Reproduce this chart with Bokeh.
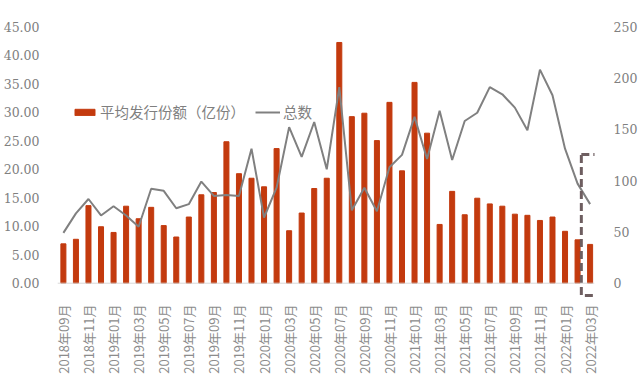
import math
from bokeh.plotting import figure
from bokeh.models import (Range1d, LinearAxis, FixedTicker, NumeralTickFormatter,
                          Span, Legend, LegendItem, ColumnDataSource)
from bokeh.embed import file_html
from bokeh.resources import INLINE

months = ["2018年09月", "2018年10月", "2018年11月", "2018年12月",
          "2019年01月", "2019年02月", "2019年03月", "2019年04月", "2019年05月", "2019年06月",
          "2019年07月", "2019年08月", "2019年09月", "2019年10月", "2019年11月", "2019年12月",
          "2020年01月", "2020年02月", "2020年03月", "2020年04月", "2020年05月", "2020年06月",
          "2020年07月", "2020年08月", "2020年09月", "2020年10月", "2020年11月", "2020年12月",
          "2021年01月", "2021年02月", "2021年03月", "2021年04月", "2021年05月", "2021年06月",
          "2021年07月", "2021年08月", "2021年09月", "2021年10月", "2021年11月", "2021年12月",
          "2022年01月", "2022年02月", "2022年03月"]
avg_share = [6.9, 7.7, 13.6, 9.9, 8.9, 13.5, 11.3, 13.3, 10.1, 8.1,
             11.6, 15.5, 15.9, 24.8, 19.2, 18.4, 16.9, 23.6, 9.2, 12.3,
             16.6, 18.4, 42.2, 29.2, 29.8, 25.0, 31.7, 19.7, 35.2, 26.3,
             10.3, 16.1, 12.0, 14.9, 13.9, 13.5, 12.1, 11.9, 11.0, 11.6,
             9.1, 7.6, 6.8]
total = [49, 68, 82, 66, 75, 66, 55, 92, 90, 73,
         77, 99, 85, 86, 85, 131, 64, 93, 152, 123,
         157, 111, 191, 71, 93, 70, 113, 125, 162, 121,
         168, 120, 158, 166, 191, 184, 171, 149, 208, 183,
         131, 97, 77]
bar_name = "平均发行份额（亿份）"
line_name = "总数"
left_ticks = [0, 5, 10, 15, 20, 25, 30, 35, 40, 45]
right_ticks = [0, 50, 100, 150, 200, 250]

idx = list(range(len(months)))
src = ColumnDataSource(dict(x=idx, share=avg_share, total=total))

Y_LO = -2.68
p = figure(width=640, height=381, output_backend="svg", toolbar_location=None,
           x_range=Range1d(-0.47, 42.35), y_range=Range1d(Y_LO, 45),
           min_border_left=55, min_border_right=43, min_border_top=26,
           min_border_bottom=83, outline_line_color=None,
           background_fill_color="white", border_fill_color="white")
p.extra_y_ranges = {"right": Range1d(Y_LO * 250 / 45, 250)}
p.grid.visible = False

bar_color = "#C33A0E"
bars = p.vbar(x="x", top="share", width=0.4, source=src, color=bar_color)
line = p.line(x="x", y="total", source=src, y_range_name="right",
              line_color="#808080", line_width=2)

p.add_layout(Span(location=0, dimension="width", line_color="#d9d9d9", line_width=1))

# highlight box around the latest month
last = idx[-1]
p.quad(left=[last - 0.7], right=[last + 0.84], bottom=[-2.15], top=[22.55],
       fill_alpha=0, line_color="#6E5E60", line_width=3, line_dash="8 4")

tick_font = "DejaVu Serif"
tick_color = "#808080"

ya = p.yaxis[0]
ya.ticker = FixedTicker(ticks=left_ticks)
ya.formatter = NumeralTickFormatter(format="0.00")
ya.axis_line_color = None
ya.major_tick_line_color = None
ya.minor_tick_line_color = None
ya.major_label_text_font = tick_font
ya.major_label_text_font_size = "12.5px"
ya.major_label_text_color = tick_color
ya.major_label_standoff = 12

ra = LinearAxis(y_range_name="right", ticker=FixedTicker(ticks=right_ticks))
ra.axis_line_color = None
ra.major_tick_line_color = None
ra.minor_tick_line_color = None
ra.major_label_text_font = tick_font
ra.major_label_text_font_size = "12.5px"
ra.major_label_text_color = tick_color
ra.major_label_standoff = 13
p.add_layout(ra, "right")

xa = p.xaxis[0]
xa.ticker = FixedTicker(ticks=idx[::2])
xa.major_label_overrides = {i: months[i] for i in idx[::2]}
xa.major_label_orientation = math.pi / 2
xa.axis_line_color = None
xa.major_tick_line_color = None
xa.minor_tick_line_color = None
xa.major_label_text_font = "Noto Sans CJK SC"
xa.major_label_text_font_size = "13px"
xa.major_label_text_color = "#8c8c8c"
xa.major_label_standoff = 0

legend = Legend(items=[LegendItem(label=bar_name, renderers=[bars]),
                       LegendItem(label=line_name, renderers=[line])],
                location=(15, 176), orientation="horizontal",
                padding=0, margin=0, spacing=10, label_standoff=3,
                glyph_width=25, glyph_height=8, label_height=18,
                border_line_color=None, background_fill_alpha=0,
                label_text_font="Noto Sans CJK SC", label_text_font_size="14.5px",
                label_text_color="#7f7f7f")
p.add_layout(legend, "center")

open("out.html", "w").write(file_html(p, INLINE))
